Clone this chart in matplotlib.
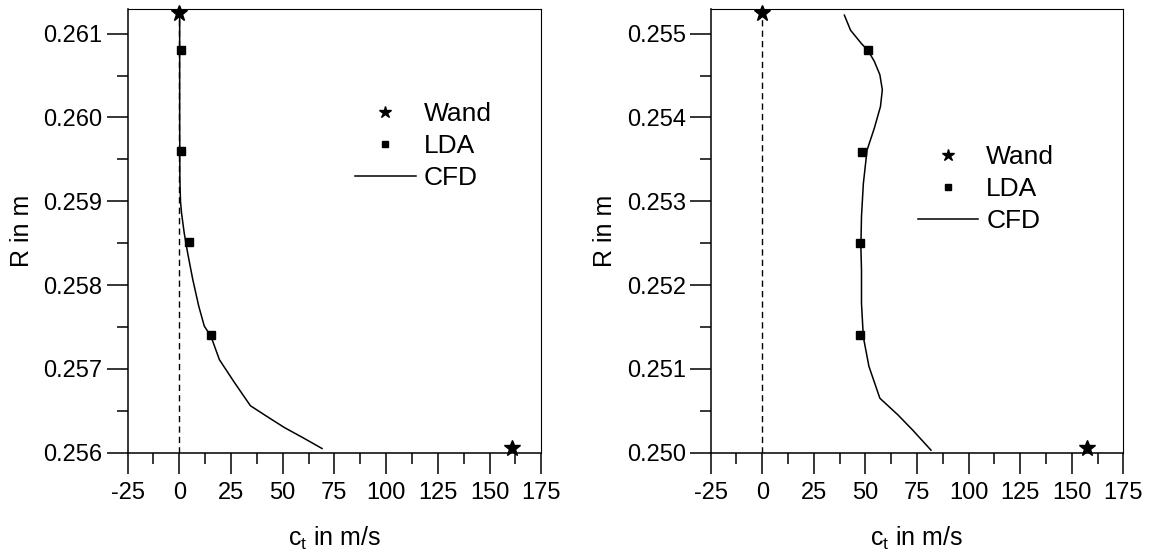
import matplotlib
matplotlib.use("Agg")
import matplotlib.pyplot as plt
from matplotlib.ticker import MultipleLocator, FormatStrFormatter

plt.rcParams['font.family'] = ['Liberation Sans', 'DejaVu Sans']
plt.rcParams['mathtext.fontset'] = 'custom'
plt.rcParams['mathtext.rm'] = 'Liberation Sans'
plt.rcParams['axes.unicode_minus'] = False

# left panel
wand_l_ct = [0, 161]
wand_l_r = [0.26125, 0.25605]
lda_l_ct = [1.0, 1.0, 4.8, 15.3]
lda_l_r = [0.2608, 0.2596, 0.25851, 0.25741]
cfd_l_ct = [0.2, 0.2, 0.3, 0.6, 1.1, 2.4, 4.0, 6.5, 9.4, 12.1, 15.3, 19.4,
            26.6, 34.4, 41.9, 50.8, 59.7, 69.0]
cfd_l_r = [0.26129, 0.2600, 0.25926, 0.2590, 0.25886, 0.25862, 0.25839,
           0.25807, 0.25775, 0.25751, 0.25739, 0.25711, 0.25684, 0.25656,
           0.25644, 0.2563, 0.25618, 0.25605]

# right panel
wand_r_ct = [0, 157.3]
wand_r_r = [0.25524, 0.25005]
lda_r_ct = [51.2, 48.5, 47.4, 47.3]
lda_r_r = [0.2548, 0.25359, 0.2525, 0.2514]
cfd_r_ct = [39.8, 42.8, 48.1, 51.2, 54.3, 57.0, 58.2, 57.3, 54.3, 50.8, 49.0,
            48.1, 47.8, 48.1, 48.1, 49.0, 51.7, 57.0, 65.8, 72.9, 81.8]
cfd_r_r = [0.25522, 0.25504, 0.25488, 0.2548, 0.25467, 0.25451, 0.25433,
           0.25413, 0.25387, 0.25361, 0.25321, 0.25282, 0.25246, 0.25218,
           0.25178, 0.25138, 0.25103, 0.25065, 0.25045, 0.25027, 0.25003]

panels = [
    (wand_l_ct, wand_l_r, lda_l_ct, lda_l_r, cfd_l_ct, cfd_l_r,
     (0.256, 0.26129), (0.55, 0.79)),
    (wand_r_ct, wand_r_r, lda_r_ct, lda_r_r, cfd_r_ct, cfd_r_r,
     (0.250, 0.25529), (0.5015, 0.693)),
]

fig = plt.figure(figsize=(11.52, 5.53), dpi=100)
boxes = [[0.1107, 0.1814, 0.3592, 0.8018], [0.6169, 0.1814, 0.3582, 0.8018]]

for box, (wx, wy, lx, ly, cx, cy, ylim, leg_pos) in zip(boxes, panels):
    ax = fig.add_axes(box)
    ax.axvline(0, color='black', lw=1.0, linestyle=(0, (4.5, 3)), zorder=1)
    ax.plot(cx, cy, color='black', lw=1.1, label='CFD', zorder=2)
    ax.plot(lx, ly, 's', color='black', ms=5.3, label='LDA', zorder=3)
    ax.plot(wx, wy, '*', color='black', ms=12, label='Wand', zorder=4,
            clip_on=False)
    ax.set_xlim(-25, 175)
    ax.set_ylim(*ylim)
    ax.xaxis.set_major_locator(MultipleLocator(25))
    ax.xaxis.set_minor_locator(MultipleLocator(12.5))
    ax.yaxis.set_major_locator(MultipleLocator(0.001))
    ax.yaxis.set_minor_locator(MultipleLocator(0.0005))
    ax.yaxis.set_major_formatter(FormatStrFormatter('%.3f'))
    ax.tick_params(which='both', direction='out', width=1.1, labelsize=17,
                   top=False, right=False)
    ax.tick_params(which='major', length=15, pad=3)
    ax.tick_params(which='minor', length=8)
    ax.tick_params(axis='x', which='major', pad=6)
    for side in ['left', 'bottom']:
        ax.spines[side].set_linewidth(1.1)
    for side in ['top', 'right']:
        ax.spines[side].set_linewidth(0.8)
    ax.set_ylabel('R in m', fontsize=18, labelpad=7)
    ax.set_xlabel(r'c$_\mathregular{t}$ in m/s', fontsize=18, labelpad=15)

    h, l = ax.get_legend_handles_labels()
    ax.legend(h[::-1], l[::-1], loc='upper left', bbox_to_anchor=leg_pos,
              frameon=False, fontsize=19, handlelength=2.3,
              handletextpad=0.3, labelspacing=0.3, borderpad=0,
              borderaxespad=0, markerscale=0.75)

fig.savefig('out.png', dpi=100)
